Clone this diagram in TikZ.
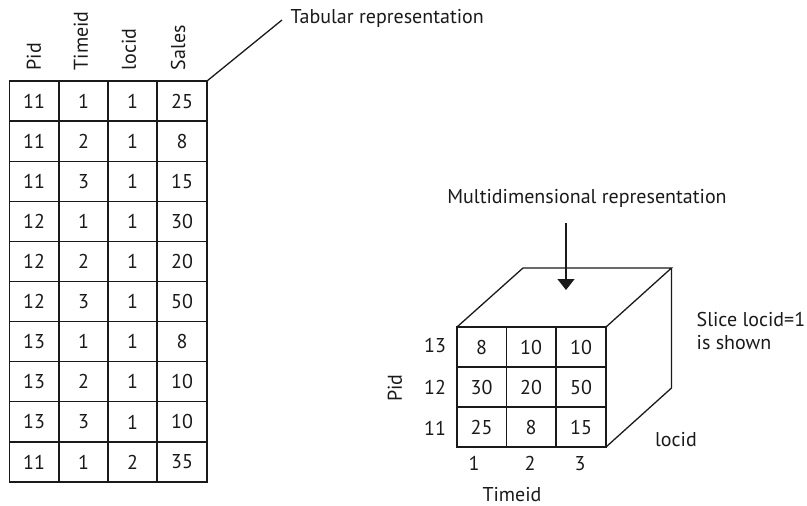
\documentclass[tikz,border=0pt]{standalone}
\usepackage{fontspec}
\setmainfont{PT Sans}
\usetikzlibrary{arrows.meta}
\definecolor{ink}{HTML}{1A1A1A}
\begin{document}
\begin{tikzpicture}[x=1pt,y=-1pt,line width=1.3pt,draw=ink,
  txt/.style={font=\fontsize{20}{23}\selectfont,inner sep=0pt,text=ink},
  hdr/.style={txt,rotate=90,anchor=west},
  gridline/.style={line width=1.3pt,draw=ink}]
\useasboundingbox (0,0) rectangle (807,506);
% ---- table ----
\draw[gridline] (9.5,81) rectangle (207,482);
\foreach \x in {59,108,157} \draw[gridline] (\x,81) -- (\x,482);
\foreach \i in {1,...,9} \draw[gridline] (9.5,81+40.1*\i) -- (207,81+40.1*\i);
\node[hdr] (h1) at (34,71) {Pid};
\node[hdr] (h2) at (81,71) {Timeid};
\node[hdr] (h3) at (129,71) {locid};
\node[hdr] (h4) at (178,71) {Sales};
\coordinate (tc) at (207,81);
\foreach \a/\b/\c/\d [count=\i] in {11/1/1/25,11/2/1/8,11/3/1/15,12/1/1/30,12/2/1/20,12/3/1/50,13/1/1/8,13/2/1/10,13/3/1/10,11/1/2/35}{
  \node[txt] (c\i a) at (34,81+40.1*\i-20) {\a};
  \node[txt] (c\i b) at (83.5,81+40.1*\i-20) {\b};
  \node[txt] (c\i c) at (132.5,81+40.1*\i-20) {\c};
  \node[txt] (c\i d) at (182,81+40.1*\i-20) {\d};
}
\node[txt,anchor=west] (tab) at (290,18) {Tabular representation};
\coordinate (tabend) at (282,20);
\draw (tc) -- (tabend);
% ---- cube ----
\draw (457,327) rectangle (606,447);
\draw (506.5,327) -- (506.5,447) (556,327) -- (556,447);
\draw (457,367) -- (606,367) (457,407) -- (606,407);
\draw (457,327) -- (523,268) -- (671.5,268) -- (606,327);
\draw (671.5,268) -- (671.5,388) -- (606,447);
\foreach \v/\x/\y [count=\k] in {8/481.5/347,10/531/347,10/581/347,30/481.5/387,20/531/387,50/581/387,25/481.5/427,8/531/427,15/581/427}
  \node[txt] (f\k) at (\x,\y) {\v};
\node[txt] (p13) at (435,345) {13};
\node[txt] (p12) at (435,387) {12};
\node[txt] (p11) at (435,428) {11};
\node[txt,rotate=90] (pid) at (395,388) {Pid};
\node[txt] (t1) at (474,463) {1};
\node[txt] (t2) at (530,463) {2};
\node[txt] (t3) at (580,464) {3};
\node[txt] (tid) at (512,495) {Timeid};
\node[txt] (loc) at (676,440) {locid};
\node[txt,anchor=north west,align=left] (slice) at (696,312) {Slice locid=1\\is shown};
\node[txt] (multi) at (587,198) {Multidimensional representation};
\coordinate (top) at (566,290);
\draw[-{Triangle[width=17pt,length=11pt]}] (566,223) -- (top);
\end{tikzpicture}
\end{document}
